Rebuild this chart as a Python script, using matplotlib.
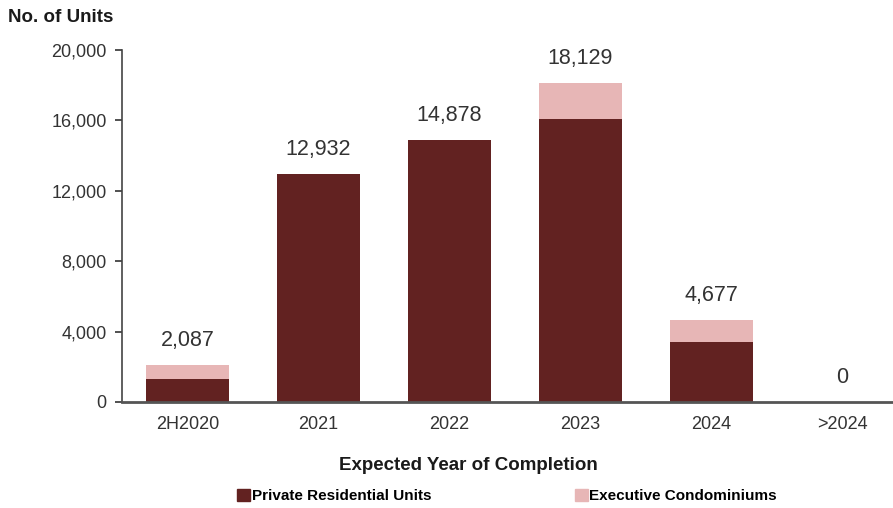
import numpy as np
import matplotlib.pyplot as plt
from matplotlib.patches import Patch

plt.rcParams['font.family'] = ['Liberation Sans', 'DejaVu Sans']

years = ['2H2020', '2021', '2022', '2023', '2024', '>2024']
private = [1300, 12932, 14878, 16100, 3400, 0]
ec = [787, 0, 0, 2029, 1277, 0]
totals = [2087, 12932, 14878, 18129, 4677, 0]

dark = '#622221'
pink = '#E7B6B6'
txt = '#333333'

fig = plt.figure(figsize=(8.93, 5.08), dpi=100)
ax = fig.add_axes([122/893, 106/508, 786/893, 352/508])

x = np.arange(len(years))
ax.bar(x, private, width=0.63, color=dark)
ax.bar(x, ec, width=0.63, bottom=private, color=pink)

# total on top of each stack
for i, t in enumerate(totals):
    ax.text(x[i], t + 800, f'{t:,}', ha='center', va='bottom', fontsize=15.5, color=txt)

ax.set_xlim(-0.5, 5.5)
ax.set_ylim(0, 20000)
ax.set_yticks(np.arange(0, 20001, 4000))
ax.set_yticklabels([f'{v:,}' for v in range(0, 20001, 4000)])
ax.set_xticks(x)
ax.set_xticklabels(years)
ax.tick_params(axis='x', length=0, pad=10, labelsize=13, colors=txt)
ax.tick_params(axis='y', length=5, pad=6, labelsize=13, colors=txt, width=1.2)
for s in ['top', 'right']:
    ax.spines[s].set_visible(False)
ax.spines['left'].set_color('#444444')
ax.spines['bottom'].set_color('#555555')
ax.spines['bottom'].set_linewidth(2)
ax.spines['left'].set_linewidth(1.2)

fig.text(8/893, 1 - 17/508, 'No. of Units', fontsize=13.5, fontweight='bold',
         color='#1a1a1a', va='center', ha='left')
fig.text(468/893, 1 - 465/508, 'Expected Year of Completion', fontsize=13.5,
         fontweight='bold', color='#1a1a1a', va='center', ha='center')

handles = [Patch(color=dark), Patch(color=pink)]
fig.legend(handles, ['Private Residential Units', 'Executive Condominiums'],
           loc='center', bbox_to_anchor=(507/893, 1 - 496/508), ncol=2,
           frameon=False, prop={'weight': 'bold', 'size': 11},
           handlelength=0.85, handleheight=0.85, handletextpad=0.1,
           columnspacing=9.4)

fig.savefig('out.png', dpi=100)
